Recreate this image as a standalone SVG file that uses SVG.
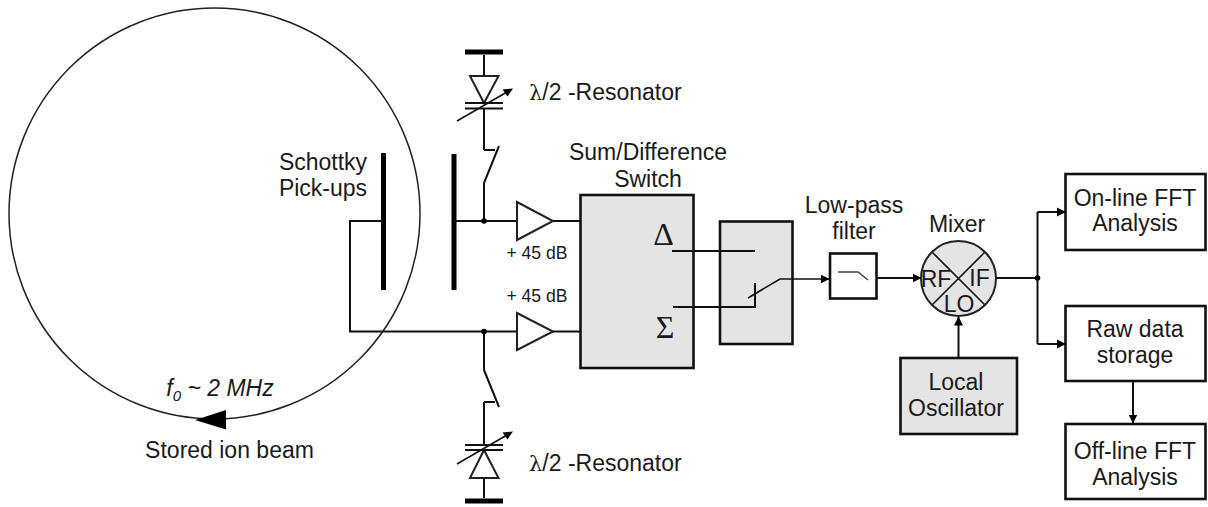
<svg xmlns="http://www.w3.org/2000/svg" width="1208" height="507" viewBox="0 0 1208 507">
<style>
text{font-family:"Liberation Sans",Arial,sans-serif;font-size:23px;fill:#1a1a1a;text-anchor:middle}
.l{fill:none;stroke:#111;stroke-width:2}
.t{fill:none;stroke:#111;stroke-width:1.6}
.b{fill:none;stroke:#000;stroke-width:5}
.g{fill:#e4e4e4;stroke:#111;stroke-width:2.6}
.w{fill:#fff;stroke:#111;stroke-width:2.6}
.a{fill:#fff;stroke:#222;stroke-width:2}
.k{fill:#000}
.s{font-family:"Liberation Serif","DejaVu Serif",serif;font-size:32px}
.st{text-anchor:start}
.d{font-size:17.6px}
</style>
<defs>
<marker id="ah" markerWidth="9" markerHeight="9" refX="8.5" refY="4.5" orient="auto" markerUnits="userSpaceOnUse"><path d="M0,0L9,4.5L0,9z" fill="#000"/></marker>
</defs>
<rect width="1208" height="507" fill="#fff"/>
<g id="beam">
<circle cx="214.5" cy="213.5" r="205.5" fill="none" stroke="#222" stroke-width="1.5"/>
<path d="M226,410L195,420L226,429.5z" class="k"/>
<text x="220" y="396" style="font-style:italic">f<tspan font-size="15" dy="5">0</tspan><tspan dy="-5"> ~ 2 MHz</tspan></text>
<text x="229.500" y="458">Stored ion beam</text>
</g>
<g id="pickups">
<path class="b" d="M383.500,153V290M454,154V290"/>
<text x="323" y="170">Schottky</text>
<text x="323" y="196">Pick-ups</text>
</g>
<g id="resonator-top">
<path class="b" d="M465,52H503"/>
<path class="a" d="M470,76H498.500L484,103z"/>
<path class="l" d="M465,103H503M465,108.500H503"/>
<path class="t" d="M457,121L507,92"/>
<path class="k" d="M513,88.500L502.500,89.500L507.500,96.500z"/>
<text x="529" y="100" class="st"><tspan font-family="'DejaVu Serif',serif" font-size="21">λ</tspan>/2 -Resonator</text>
</g>
<g id="resonator-bottom">
<path class="b" d="M465,501H503"/>
<path class="a" d="M470,478H498.500L484,450z"/>
<path class="l" d="M465,445H503M465,450H503"/>
<path class="t" d="M457,464L507,435"/>
<path class="k" d="M513,431.500L502.500,432.500L507.500,439.500z"/>
<text x="529" y="471" class="st"><tspan font-family="'DejaVu Serif',serif" font-size="21">λ</tspan>/2 -Resonator</text>
</g>
<g id="amp-top">
<path class="a" d="M517,202V240L553,221z"/>
<text x="537" y="259" class="d">+ 45 dB</text>
</g>
<g id="amp-bottom">
<path class="a" d="M517,313V350L553,331.500z"/>
<text x="537" y="302" class="d">+ 45 dB</text>
</g>
<g id="sumdiff">
<rect x="580.500" y="195" width="113" height="173" class="g"/>
<text x="648" y="160">Sum/Difference</text>
<text x="648" y="187">Switch</text>
<text x="663.500" y="245" class="s">Δ</text>
<text x="665" y="338" class="s">Σ</text>
</g>
<g id="switch">
<rect x="720" y="221.500" width="72.500" height="122.500" class="g"/>
</g>
<g id="filter">
<rect x="830" y="253.500" width="46.500" height="45" class="w"/>
<path d="M838,272H858L868,280" fill="none" stroke="#444" stroke-width="1.6"/>
<text x="854" y="213">Low-pass</text>
<text x="854" y="239">filter</text>
</g>
<g id="mixer">
<circle cx="958.500" cy="278.500" r="37.500" fill="#e4e4e4" stroke="#222" stroke-width="2"/>
<path class="t" d="M932.500,252.500L984.500,304.500M984.500,252.500L932.500,304.500"/>
<text x="957" y="232">Mixer</text>
<text x="936" y="287">RF</text>
<text x="979.500" y="286">IF</text>
<text x="959" y="312">LO</text>
</g>
<g id="lo">
<rect x="900.500" y="358" width="116.500" height="76" class="g"/>
<text x="956" y="390">Local</text>
<text x="956" y="416">Oscillator</text>
</g>
<g id="online">
<rect x="1065.500" y="174" width="140" height="76" class="w"/>
<text x="1135" y="206">On-line FFT</text>
<text x="1135" y="231">Analysis</text>
</g>
<g id="raw">
<rect x="1065.500" y="306" width="140" height="75" class="w"/>
<text x="1135" y="337">Raw data</text>
<text x="1135" y="363">storage</text>
</g>
<g id="offline">
<rect x="1065.500" y="424" width="140" height="75" class="w"/>
<text x="1135" y="459">Off-line FFT</text>
<text x="1135" y="485">Analysis</text>
</g>
<g id="connectors">
<path class="l" d="M454,221H517M553,221H580"/>
<path class="l" d="M383,221H350V331.500H517M553,331.500H580"/>
<path class="l" d="M484,221V183L499,146M484,150H495M484,150V108M484,55V76"/>
<path class="l" d="M484,331.500V370L499,407M484,402H495M484,402V445M484,478V498"/>
<path class="l" d="M672,251H755M673,307H755V283"/>
<path class="t" d="M748,298L780,279H829" marker-end="url(#ah)"/>
<path class="l" d="M877,278H921" marker-end="url(#ah)"/>
<path class="l" d="M996,278H1037.500M1037.500,212V344M1037.500,212H1065M1037.500,344H1065"/>
<path class="k" d="M1066,212L1057,207.500V216.500zM1066,344L1057,339.500V348.500z"/>
<path class="l" d="M958.500,358V317" marker-end="url(#ah)"/>
<path class="l" d="M1133,381V423" marker-end="url(#ah)"/>
<circle cx="484" cy="221" r="2.800" class="k"/>
<circle cx="484" cy="331.500" r="2.800" class="k"/>
<circle cx="1037.500" cy="278" r="2.800" class="k"/>
</g>
</svg>
